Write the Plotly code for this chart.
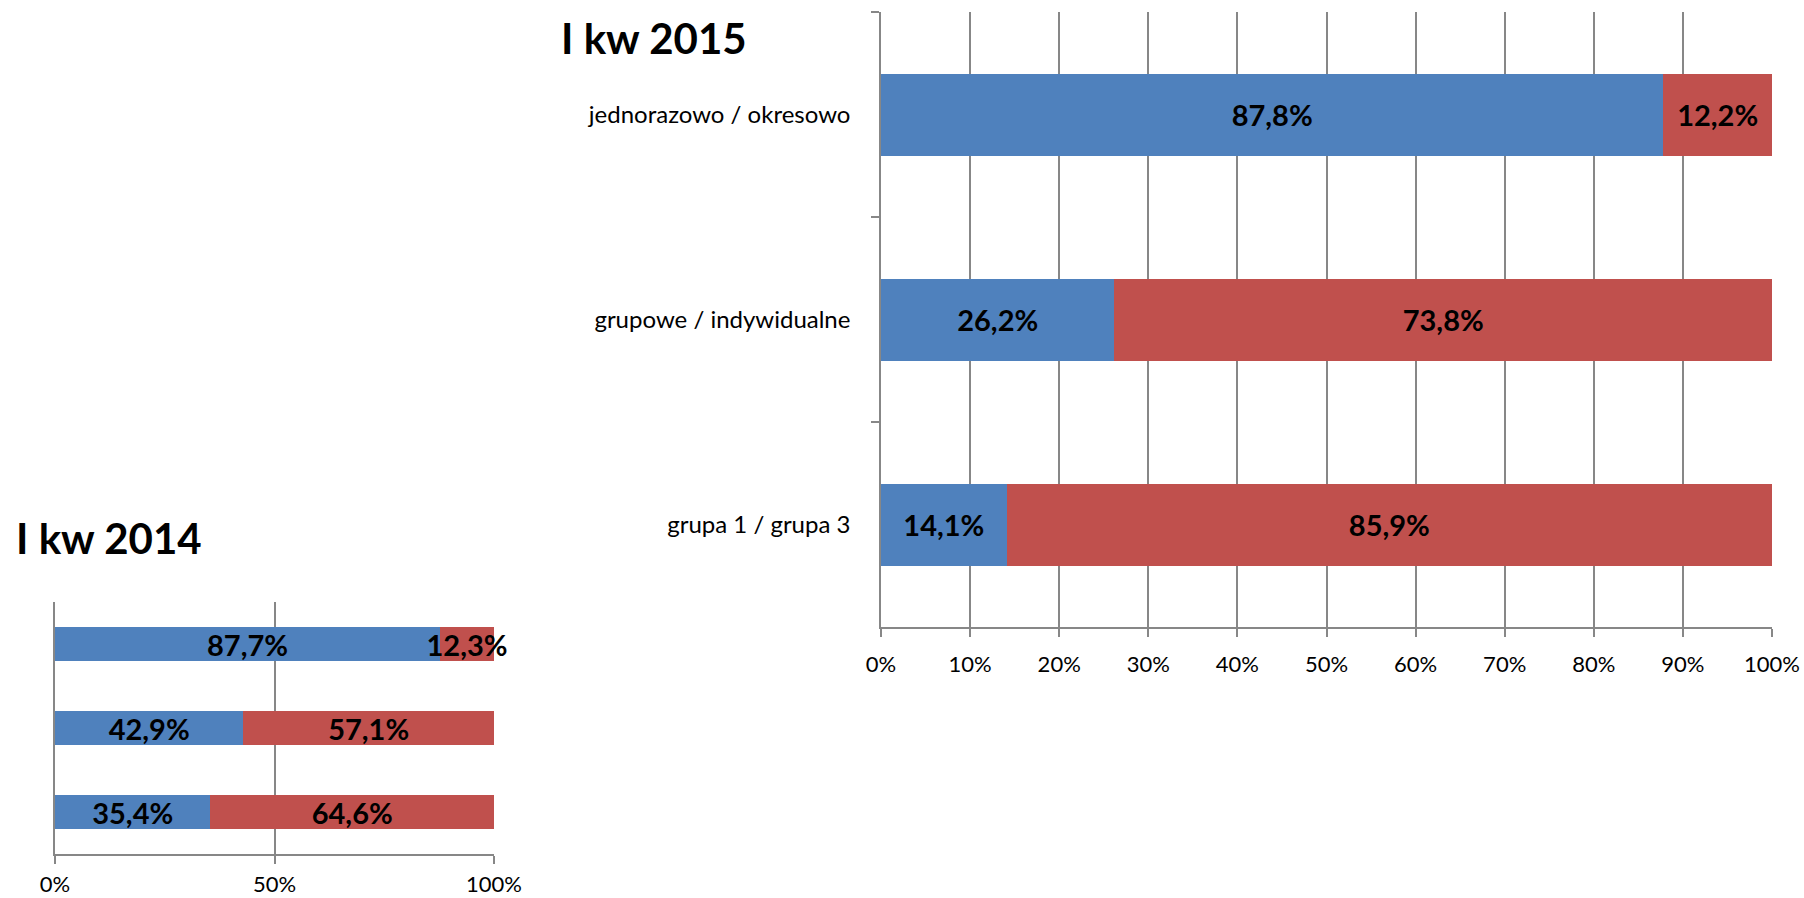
import plotly.graph_objects as go

categories = ["jednorazowo / okresowo", "grupowe / indywidualne", "grupa 1 / grupa 3"]
blue_2015 = [87.8, 26.2, 14.1]
red_2015 = [12.2, 73.8, 85.9]
blue_2014 = [87.7, 42.9, 35.4]
red_2014 = [12.3, 57.1, 64.6]
title_2015 = "I kw 2015"
title_2014 = "I kw 2014"

BLUE = "#4F81BD"
RED = "#C0504D"
GRID = "#878787"
FONT = "Lato"

W, H = 1804, 898
def px(x):
    return x / W
def py(y):
    return 1 - y / H

def fmt(v):
    return f"{v:.1f}".replace(".", ",") + "%"

fig = go.Figure()

def add_bars(blue, red, xa, ya):
    for vals, col in ((blue, BLUE), (red, RED)):
        fig.add_trace(go.Bar(
            y=categories, x=vals, orientation="h", marker=dict(color=col, line=dict(width=0)),
            text=[fmt(v) for v in vals], textposition="inside", insidetextanchor="middle",
            textangle=0, constraintext="none", cliponaxis=False,
            textfont=dict(family=FONT, size=29, color="black", weight="bold"),
            xaxis=xa, yaxis=ya, showlegend=False, hoverinfo="skip"))

add_bars(blue_2015, red_2015, "x", "y")
add_bars(blue_2014, red_2014, "x2", "y2")

xcommon = dict(range=[0, 100], ticksuffix="%", showgrid=True, gridcolor=GRID, gridwidth=1.5,
               showline=True, linecolor=GRID, linewidth=1.5, ticks="outside", ticklen=8,
               tickcolor=GRID, tickwidth=1.5, zeroline=False, automargin=False,
               tickfont=dict(family=FONT, size=22, color="black"))
ycommon = dict(type="category", categoryarray=categories, autorange="reversed", automargin=False,
               showline=True, linecolor=GRID, linewidth=1.5, showgrid=False, zeroline=False)

fig.update_layout(
    width=W, height=H, margin=dict(l=0, r=0, t=0, b=0),
    paper_bgcolor="white", plot_bgcolor="white", barmode="stack", bargap=0.6,
    xaxis=dict(domain=[px(881), px(1772)], anchor="y", dtick=10, ticklabelstandoff=9, **xcommon),
    yaxis=dict(domain=[py(627), py(12)], anchor="x", ticks="outside", tickson="boundaries",
               ticklen=8, tickcolor=GRID, tickwidth=1.5, ticklabelstandoff=24,
               tickfont=dict(family=FONT, size=24, color="black"), **ycommon),
    xaxis2=dict(domain=[px(55), px(494)], anchor="y2", dtick=50, ticklabelstandoff=2, **xcommon),
    yaxis2=dict(domain=[py(854), py(602)], anchor="x2", showticklabels=False, ticks="", **ycommon),
    annotations=[
        dict(text=title_2015, x=px(559), y=py(38), xref="paper", yref="paper",
             xanchor="left", yanchor="middle", showarrow=False,
             font=dict(family=FONT, size=42, color="black", weight="bold")),
        dict(text=title_2014, x=px(14), y=py(538), xref="paper", yref="paper",
             xanchor="left", yanchor="middle", showarrow=False,
             font=dict(family=FONT, size=42, color="black", weight="bold")),
    ],
)

fig.write_html("out.html", config={"displayModeBar": False},
               post_script="document.body.style.margin='0';document.body.style.overflow='hidden';")
